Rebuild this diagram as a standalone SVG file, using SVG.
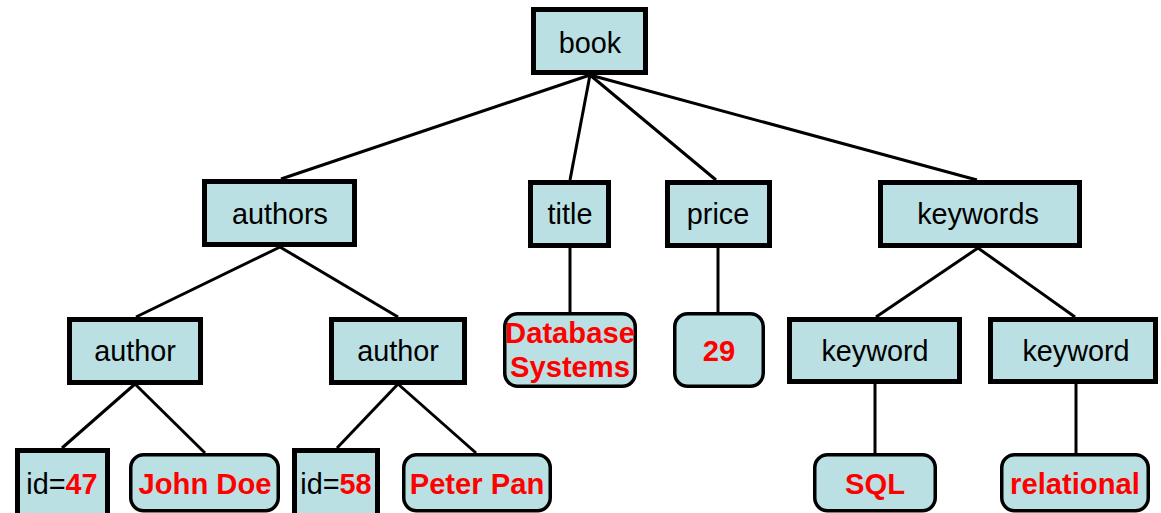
<svg xmlns="http://www.w3.org/2000/svg" width="1161" height="513" viewBox="0 0 1161 513">
<style>
.el{fill:#bbe0e3;stroke:#000;stroke-width:5}
.lf{fill:#bbe0e3;stroke:#000;stroke-width:3.5}
.t{font-family:"Liberation Sans",Arial,sans-serif;font-size:28.8px;fill:#000;text-anchor:middle}
.v{font-family:"Liberation Sans",Arial,sans-serif;font-size:29.2px;font-weight:bold;fill:#ff0000;text-anchor:middle}
.e{stroke:#000;stroke-width:3;fill:none}
</style>
<rect width="1161" height="513" fill="#fff"/>
<g id="connectors">
<line class="e" x1="590" y1="75" x2="281" y2="179"/>
<line class="e" x1="590" y1="75" x2="570" y2="180"/>
<line class="e" x1="590" y1="75" x2="716" y2="180"/>
<line class="e" x1="590" y1="75" x2="977" y2="180"/>
<line class="e" x1="280" y1="247" x2="136" y2="317"/>
<line class="e" x1="280" y1="247" x2="398" y2="317"/>
<line class="e" x1="135" y1="384" x2="62" y2="448"/>
<line class="e" x1="135" y1="384" x2="205" y2="453"/>
<line class="e" x1="398" y1="384" x2="337" y2="448"/>
<line class="e" x1="398" y1="384" x2="476" y2="453"/>
<line class="e" x1="570" y1="248" x2="570" y2="312"/>
<line class="e" x1="718" y1="248" x2="718" y2="312"/>
<line class="e" x1="978" y1="248" x2="876" y2="317"/>
<line class="e" x1="978" y1="248" x2="1075" y2="317"/>
<line class="e" x1="875" y1="384" x2="875" y2="453"/>
<line class="e" x1="1076" y1="384" x2="1076" y2="453"/>
</g>
<g id="book"><rect class="el" x="533.5" y="9.5" width="112" height="63"/><text class="t" x="590" y="53">book</text></g>
<g id="authors"><rect class="el" x="204.5" y="181.5" width="150" height="63"/><text class="t" x="280" y="224">authors</text></g>
<g id="title"><rect class="el" x="530.5" y="182.5" width="78" height="63"/><text class="t" x="570" y="224">title</text></g>
<g id="price"><rect class="el" x="667.5" y="182.5" width="102" height="63"/><text class="t" x="718" y="224">price</text></g>
<g id="keywords"><rect class="el" x="880.5" y="182.5" width="199" height="63"/><text class="t" x="978" y="224">keywords</text></g>
<g id="author1"><rect class="el" x="69.5" y="319.5" width="131" height="63"/><text class="t" x="135" y="361">author</text></g>
<g id="author2"><rect class="el" x="331.5" y="319.5" width="133" height="63"/><text class="t" x="398" y="361">author</text></g>
<g id="keyword1"><rect class="el" x="789.5" y="319.5" width="170" height="62"/><text class="t" x="875" y="361">keyword</text></g>
<g id="keyword2"><rect class="el" x="990.5" y="319.5" width="165" height="62"/><text class="t" x="1076" y="361">keyword</text></g>
<g id="db"><rect class="lf" x="504.75" y="313.75" width="130.5" height="72.5" rx="13"/><text class="v" x="570" y="343">Database</text><text class="v" x="570" y="377">Systems</text></g>
<g id="v29"><rect class="lf" x="674.75" y="313.75" width="88.5" height="72.5" rx="13"/><text class="v" x="719" y="361">29</text></g>
<g id="id47"><rect class="el" x="17.5" y="450.5" width="90" height="80"/><text class="t" x="62" y="494">id=<tspan style="font-weight:bold;fill:#ff0000">47</tspan></text></g>
<g id="johndoe"><rect class="lf" x="130.75" y="454.75" width="147.5" height="56" rx="13"/><text class="v" x="205" y="494">John Doe</text></g>
<g id="id58"><rect class="el" x="294.5" y="450.5" width="83" height="80"/><text class="t" x="336" y="494">id=<tspan style="font-weight:bold;fill:#ff0000">58</tspan></text></g>
<g id="peterpan"><rect class="lf" x="403.75" y="454.75" width="146.5" height="56" rx="13"/><text class="v" x="477" y="494">Peter Pan</text></g>
<g id="sql"><rect class="lf" x="814.75" y="454.75" width="120.5" height="56" rx="13"/><text class="v" x="875" y="494">SQL</text></g>
<g id="relational"><rect class="lf" x="1001.75" y="454.75" width="146.5" height="56" rx="13"/><text class="v" x="1075" y="494">relational</text></g>
</svg>
